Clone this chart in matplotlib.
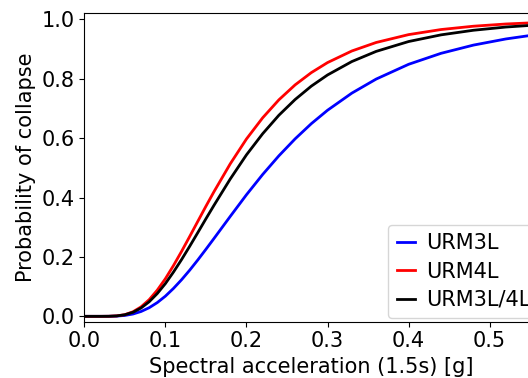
"""Collapse fragility curves for URM buildings (Sa at 1.5s)."""

import matplotlib

matplotlib.use("Agg")
import matplotlib.pyplot as plt

# spectral acceleration [g]
sa = [0.0, 0.02, 0.03, 0.04, 0.05, 0.06, 0.07, 0.08, 0.09, 0.10, 0.11, 0.12,
      0.13, 0.14, 0.15, 0.16, 0.18, 0.20, 0.22, 0.24, 0.26, 0.28, 0.30, 0.33,
      0.36, 0.40, 0.44, 0.48, 0.52, 0.56, 0.60]

# probability of collapse
p_urm3l = [0.0, 0.0, 0.0001, 0.0008, 0.0030, 0.0078, 0.0163, 0.0290, 0.0463,
           0.0680, 0.0941, 0.1234, 0.1555, 0.1899, 0.2258, 0.2624, 0.3365,
           0.4094, 0.4777, 0.5406, 0.5976, 0.6488, 0.6940, 0.7517, 0.7990,
           0.8487, 0.8857, 0.9134, 0.9341, 0.9497, 0.9614]
p_urm4l = [0.0, 0.0, 0.0002, 0.0015, 0.0057, 0.0153, 0.0319, 0.0561, 0.0882,
           0.1267, 0.1711, 0.2189, 0.2690, 0.3199, 0.3707, 0.4200, 0.5136,
           0.5972, 0.6686, 0.7291, 0.7794, 0.8207, 0.8545, 0.8936, 0.9222,
           0.9487, 0.9658, 0.9770, 0.9845, 0.9894, 0.9927]
p_combined = [0.0, 0.0, 0.0002, 0.0014, 0.0053, 0.0137, 0.0281, 0.0491, 0.0768,
              0.1103, 0.1492, 0.1913, 0.2360, 0.2820, 0.3285, 0.3741, 0.4625,
              0.5438, 0.6150, 0.6772, 0.7301, 0.7752, 0.8128, 0.8580, 0.8922,
              0.9254, 0.9479, 0.9634, 0.9742, 0.9816, 0.9868]

labels = ["URM3L", "URM4L", "URM3L/4L"]
colors = ["b", "r", "k"]

fig = plt.figure(figsize=(5.28, 3.78), dpi=100)
# the axes run a little past the right edge of the picture (the original was cropped)
ax = fig.add_axes([0.1597, 0.149, 0.8598, 0.817])

for p, lab, c in zip([p_urm3l, p_urm4l, p_combined], labels, colors):
    ax.plot(sa, p, color=c, lw=2, label=lab)

ax.set_xlim(0, 0.56)
ax.set_ylim(-0.018, 1.022)
ax.set_xticks([0.0, 0.1, 0.2, 0.3, 0.4, 0.5])
ax.set_yticks([0.0, 0.2, 0.4, 0.6, 0.8, 1.0])
ax.tick_params(labelsize=15)
ax.set_xlabel("Spectral acceleration (1.5s) [g]", fontsize=15)
ax.set_ylabel("Probability of collapse", fontsize=15)

ax.legend(loc="lower left", bbox_to_anchor=(388.3 / 528, 1 - 318.3 / 378),
          bbox_transform=fig.transFigure, borderaxespad=0, fontsize=15,
          handlelength=0.9, handletextpad=0.5, labelspacing=0.4,
          borderpad=0.4)

fig.savefig("out.png", dpi=100)
